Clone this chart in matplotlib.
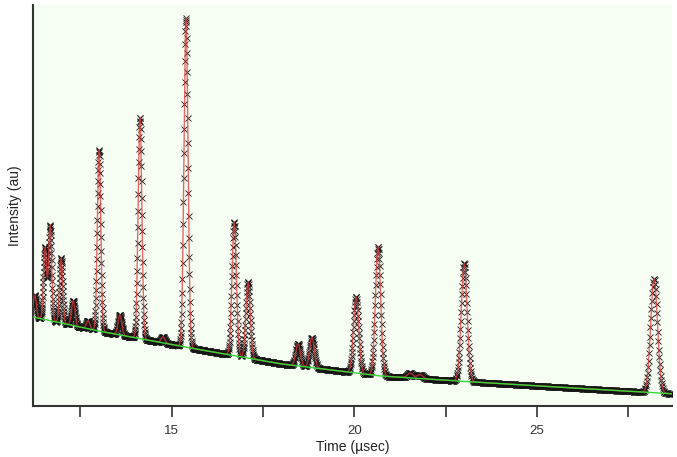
import numpy as np
import matplotlib
matplotlib.use("Agg")
import matplotlib.pyplot as plt
from matplotlib.ticker import MultipleLocator

# peak list: centre (usec), height above background (au), fwhm (usec)
peak_pos = [11.25, 11.53, 11.67, 11.97, 12.30, 12.71, 13.01, 13.58, 14.13, 14.76, 15.39,
            16.71, 17.09, 18.46, 18.84, 20.05, 20.65, 21.53, 21.80, 23.01, 28.21]
peak_height = [5.5, 18.0, 23.7, 16.2, 6.2, 2.0, 45.1, 5.0, 55.1, 1.5, 82.0,
               33.4, 19.0, 5.5, 7.5, 19.0, 32.2, 1.2, 1.0, 29.4, 28.4]
peak_fwhm = [0.10, 0.10, 0.10, 0.10, 0.11, 0.11, 0.11, 0.12, 0.12, 0.12, 0.13,
             0.14, 0.14, 0.15, 0.15, 0.17, 0.17, 0.18, 0.18, 0.19, 0.22]

# background knots (green line)
bg_time = [11.2, 13.0, 15.8, 18.0, 20.7, 22.9, 25.6, 28.8]
bg_int = [22.2, 18.7, 14.0, 10.5, 7.5, 6.2, 4.7, 3.0]

# TOF channels, constant dt/t
t_start, t_end, dt_over_t = 11.2, 28.8, 0.00045
t = t_start * np.exp(np.arange(0, np.log(t_end / t_start), dt_over_t))

bg = np.interp(t, bg_time, bg_int)
calc = bg.copy()
for p, h, w in zip(peak_pos, peak_height, peak_fwhm):
    s = w / 2.3548
    calc += h * np.exp(-0.5 * ((t - p) / s) ** 2)
obs = calc

fig = plt.figure(figsize=(6.77, 4.57), dpi=100)
ax = fig.add_axes([33/677, 51/457, 639/677, 401/457])
ax.set_facecolor("#f6fdf3")

ax.plot(t, obs, ls="none", marker="x", ms=4.2, mew=0.6, color="#151515", zorder=2)
ax.plot(t, calc, color="#e03838", lw=1.0, alpha=0.75, zorder=3)
ax.plot(bg_time, bg_int, color="#38d838", lw=1.0, zorder=4)

ax.set_xlim(11.2, 28.7)
ax.set_ylim(0, 100)
for s in ["top", "right"]:
    ax.spines[s].set_visible(False)
for s in ["left", "bottom"]:
    ax.spines[s].set_color("#333333")
    ax.spines[s].set_linewidth(1.5)
ax.set_yticks([])
ax.xaxis.set_major_locator(MultipleLocator(5))
ax.xaxis.set_minor_locator(MultipleLocator(2.5))
ax.tick_params(axis="x", which="both", length=8, width=1.2, color="#333333",
               labelsize=9.5, labelcolor="#333333", pad=6)
ax.set_xlabel("Time (\u00b5sec)", fontsize=10, color="#222222", labelpad=2,
              family=["Liberation Sans", "DejaVu Sans"])
ax.set_ylabel("Intensity (au)", fontsize=10, color="#222222", labelpad=8,
              family=["Liberation Sans", "DejaVu Sans"])
for lab in ax.get_xticklabels():
    lab.set_family(["Liberation Sans", "DejaVu Sans"])

fig.savefig("out.png", dpi=100)
